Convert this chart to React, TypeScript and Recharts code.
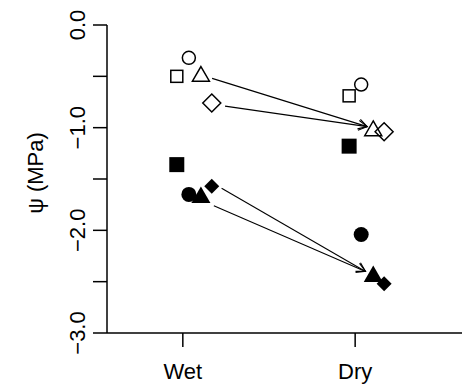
import React from 'react';
import { ScatterChart, Scatter, XAxis, YAxis, ReferenceLine } from 'recharts';

// conditions on the x axis
const groups = ['Wet', 'Dry'];
const groupX = [1, 2];
const yTicks = [0, -0.5, -1, -1.5, -2, -2.5, -3];
const yTickLabels: Record<string, string> = { '0': '0.0', '-1': '\u22121.0', '-2': '\u22122.0', '-3': '\u22123.0' };

// water potential (MPa), [Wet, Dry]
const openSquare = [-0.5, -0.69];
const openCircle = [-0.32, -0.58];
const openTriangle = [-0.5, -1.03];
const openDiamond = [-0.76, -1.04];
const filledSquare = [-1.36, -1.18];
const filledCircle = [-1.65, -2.04];
const filledTriangle = [-1.68, -2.45];
const filledDiamond = [-1.57, -2.52];

// horizontal offsets so the symbols don't overlap
const offsetSquare = -0.035;
const offsetCircle = 0.035;
const offsetTriangle = 0.105;
const offsetDiamond = 0.168;

// arrows (x/y start -> x/y end)
const arrowX1 = [1.17, 1.245, 1.225, 1.18];
const arrowY1 = [-0.52, -0.79, -1.59, -1.76];
const arrowX2 = [2.07, 2.07, 2.06, 2.06];
const arrowY2 = [-0.99, -0.99, -2.4, -2.4];

const FONT = '"Liberation Sans", Arial, Helvetica, sans-serif';

const toPoints = (vals: number[], off: number) =>
  vals.map((y, i) => ({ x: groupX[i] + off, y, group: groups[i] }));

type Kind = 'square' | 'circle' | 'triangle' | 'diamond';

function Marker(props: any) {
  const { cx, cy, kind, filled } = props as { cx: number; cy: number; kind: Kind; filled: boolean };
  if (cx == null || cy == null) return null;
  const fill = filled ? '#000' : 'none';
  const stroke = filled ? 'none' : '#000';
  const sw = 1.5;
  if (kind === 'square') {
    const s = filled ? 15 : 12;
    return <rect x={cx - s / 2} y={cy - s / 2} width={s} height={s} fill={fill} stroke={stroke} strokeWidth={sw} />;
  }
  if (kind === 'circle') {
    const r = filled ? 7.5 : 6.5;
    return <circle cx={cx} cy={cy} r={r} fill={fill} stroke={stroke} strokeWidth={sw} />;
  }
  if (kind === 'triangle') {
    const r = filled ? 11 : 9.8;
    const pts = `${cx},${cy - r} ${cx + r * 0.866},${cy + r * 0.5} ${cx - r * 0.866},${cy + r * 0.5}`;
    return <polygon points={pts} fill={fill} stroke={stroke} strokeWidth={sw} strokeLinejoin="miter" />;
  }
  const d = filled ? 7.5 : 9;
  const pts = `${cx},${cy - d} ${cx + d},${cy} ${cx},${cy + d} ${cx - d},${cy}`;
  return <polygon points={pts} fill={fill} stroke={stroke} strokeWidth={sw} />;
}

function Arrow(props: any) {
  const { x1, y1, x2, y2 } = props;
  const ang = Math.atan2(y2 - y1, x2 - x1);
  const len = 10;
  const a1 = ang + Math.PI - Math.PI / 6;
  const a2 = ang + Math.PI + Math.PI / 6;
  return (
    <g stroke="#000" strokeWidth={1.1} fill="none">
      <line x1={x1} y1={y1} x2={x2} y2={y2} />
      <polyline
        points={`${x2 + len * Math.cos(a1)},${y2 + len * Math.sin(a1)} ${x2},${y2} ${x2 + len * Math.cos(a2)},${y2 + len * Math.sin(a2)}`}
      />
    </g>
  );
}

const YTick = (props: any) => {
  const { x, y, payload } = props;
  const label = yTickLabels[String(payload.value)];
  if (!label) return null;
  const bx = x - 6;
  return (
    <text x={bx} y={y} transform={`rotate(-90, ${bx}, ${y})`} textAnchor="middle" fontSize={22} fontFamily={FONT} fill="#000">
      {label}
    </text>
  );
};

const XTick = (props: any) => {
  const { x, y, payload } = props;
  const idx = groupX.indexOf(payload.value);
  return (
    <text x={x} y={y + 30} textAnchor="middle" fontSize={22} fontFamily={FONT} fill="#000">
      {groups[idx]}
    </text>
  );
};

const YTitle = (props: any) => {
  const { viewBox } = props;
  const cy = viewBox.y + viewBox.height / 2 - 6;
  const bx = 43;
  return (
    <text x={bx} y={cy} transform={`rotate(-90, ${bx}, ${cy})`} textAnchor="middle" fontSize={22} fontFamily={FONT} fill="#000">
      {'\u03c8 (MPa)'}
    </text>
  );
};

const series: { vals: number[]; off: number; kind: Kind; filled: boolean }[] = [
  { vals: openSquare, off: offsetSquare, kind: 'square', filled: false },
  { vals: openCircle, off: offsetCircle, kind: 'circle', filled: false },
  { vals: openTriangle, off: offsetTriangle, kind: 'triangle', filled: false },
  { vals: openDiamond, off: offsetDiamond, kind: 'diamond', filled: false },
  { vals: filledSquare, off: offsetSquare, kind: 'square', filled: true },
  { vals: filledCircle, off: offsetCircle, kind: 'circle', filled: true },
  { vals: filledTriangle, off: offsetTriangle, kind: 'triangle', filled: true },
  { vals: filledDiamond, off: offsetDiamond, kind: 'diamond', filled: true },
];

export default function App() {
  return (
    <div style={{ position: 'absolute', left: 0, top: 0, background: '#fff' }}>
      <ScatterChart width={462} height={386} margin={{ top: 25, right: 0, bottom: 0, left: 0 }}>
        <XAxis
          type="number"
          dataKey="x"
          domain={[0.56, 2.62]}
          ticks={groupX}
          tick={<XTick />}
          tickSize={14}
          height={53}
          axisLine={{ stroke: '#000', strokeWidth: 1.5 }}
          tickLine={{ stroke: '#000', strokeWidth: 1.5 }}
          allowDataOverflow
        />
        <YAxis
          type="number"
          dataKey="y"
          domain={[-3, 0]}
          ticks={yTicks}
          tick={<YTick />}
          tickSize={14}
          width={107}
          interval={0}
          axisLine={{ stroke: '#000', strokeWidth: 1.5 }}
          tickLine={{ stroke: '#000', strokeWidth: 1.5 }}
          label={{ content: <YTitle /> }}
          allowDataOverflow
        />
        {arrowX1.map((x1, i) => (
          <ReferenceLine
            key={`arrow-${i}`}
            segment={[
              { x: x1, y: arrowY1[i] },
              { x: arrowX2[i], y: arrowY2[i] },
            ]}
            shape={(p: any) => <Arrow {...p} />}
            ifOverflow="visible"
          />
        ))}
        {series.map((s, i) => (
          <Scatter
            key={`s-${i}`}
            data={toPoints(s.vals, s.off)}
            isAnimationActive={false}
            shape={(p: any) => <Marker {...p} kind={s.kind} filled={s.filled} />}
          />
        ))}
      </ScatterChart>
    </div>
  );
}
